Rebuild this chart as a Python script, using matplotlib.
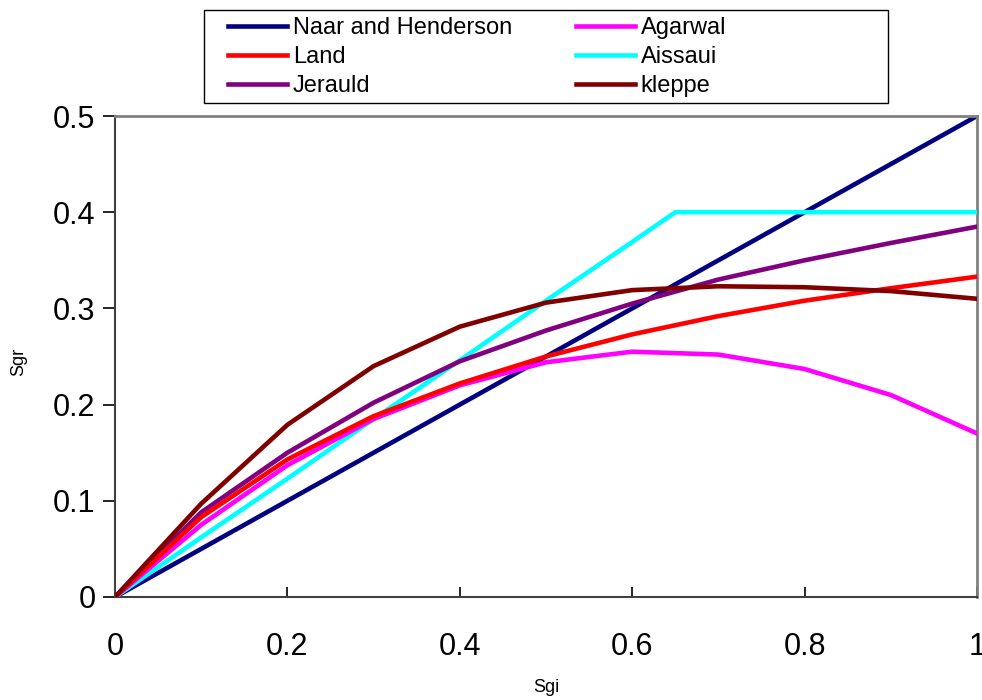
import matplotlib
matplotlib.use("Agg")
import matplotlib.pyplot as plt
from matplotlib.patches import Rectangle

plt.rcParams['font.family'] = ['Liberation Sans', 'DejaVu Sans']

# data
sgi = [0, 0.1, 0.2, 0.3, 0.4, 0.5, 0.6, 0.7, 0.8, 0.9, 1.0]
naar = [0, 0.05, 0.10, 0.15, 0.20, 0.25, 0.30, 0.35, 0.40, 0.45, 0.50]
land = [0, 0.083, 0.143, 0.188, 0.222, 0.250, 0.273, 0.292, 0.308, 0.321, 0.333]
jerauld = [0, 0.088, 0.150, 0.202, 0.245, 0.277, 0.305, 0.330, 0.350, 0.368, 0.385]
agarwal = [0, 0.075, 0.137, 0.185, 0.220, 0.244, 0.255, 0.252, 0.237, 0.210, 0.170]
kleppe = [0, 0.097, 0.179, 0.240, 0.281, 0.306, 0.319, 0.323, 0.322, 0.318, 0.310]
aissaui_x = [0, 0.1, 0.2, 0.3, 0.4, 0.5, 0.6, 0.65, 0.7, 0.8, 0.9, 1.0]
aissaui = [0, 0.062, 0.123, 0.185, 0.246, 0.308, 0.369, 0.400, 0.400, 0.400, 0.400, 0.400]

W, H = 982, 700
fig = plt.figure(figsize=(W / 100, H / 100), dpi=100)
ax = fig.add_axes([115 / W, 1 - 597 / H, 862 / W, 481 / H])

lw = 3.3
l1, = ax.plot(sgi, naar, color='#000080', lw=lw, label='Naar and Henderson', zorder=2)
l2, = ax.plot(sgi, land, color='#ff0000', lw=lw, label='Land', zorder=6)
l3, = ax.plot(sgi, jerauld, color='#800080', lw=lw, label='Jerauld', zorder=4)
l4, = ax.plot(sgi, agarwal, color='#ff00ff', lw=lw, label='Agarwal', zorder=5)
l5, = ax.plot(aissaui_x, aissaui, color='#00ffff', lw=lw, label='Aissaui', zorder=3)
l6, = ax.plot(sgi, kleppe, color='#800000', lw=lw, label='kleppe', zorder=7)

ax.set_xlim(0, 1)
ax.set_ylim(0, 0.5)
ax.set_xticks([0, 0.2, 0.4, 0.6, 0.8, 1])
ax.set_xticklabels(['0', '0.2', '0.4', '0.6', '0.8', '1'])
ax.set_yticks([0, 0.1, 0.2, 0.3, 0.4, 0.5])
ax.set_yticklabels(['0', '0.1', '0.2', '0.3', '0.4', '0.5'])
ax.tick_params(axis='x', direction='in', length=7, width=1.2, labelsize=22, pad=25)
ax.tick_params(axis='y', direction='out', length=9, width=1.2, labelsize=22, pad=5)

for s in ['top', 'right']:
    ax.spines[s].set_color('#808080')
    ax.spines[s].set_linewidth(2)
for s in ['left', 'bottom']:
    ax.spines[s].set_color('#404040')
    ax.spines[s].set_linewidth(1.5)

fig.text(546 / W, 1 - 688 / H, 'Sgi', fontsize=13, ha='center', va='center')
fig.text(19 / W, 1 - 362 / H, 'Sgr', fontsize=13, ha='center', va='center', rotation=90)

# legend box as drawn in the reference
fig.patches.append(Rectangle((204 / W, 1 - 103 / H), 684 / W, 93 / H,
                             transform=fig.transFigure, fill=False,
                             edgecolor='black', lw=1.0))
leg = fig.legend(handles=[l1, l2, l3, l4, l5, l6],
                 loc='upper left', bbox_to_anchor=(228 / W, 1 - 17 / H), ncol=2,
                 fontsize=17, frameon=False,
                 handlelength=2.5, handletextpad=0.25, columnspacing=2.7,
                 labelspacing=0.3, borderpad=0, borderaxespad=0)

fig.savefig('out.png', dpi=100)
